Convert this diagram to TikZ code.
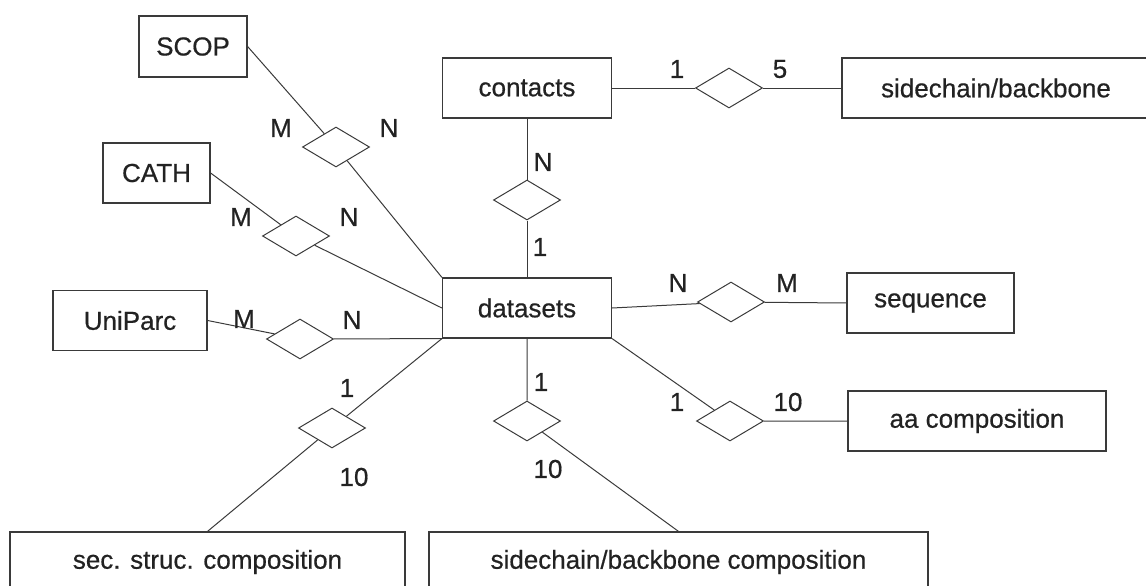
\documentclass[tikz,border=0pt]{standalone}
\usepackage{fontspec}
\setmainfont{Liberation Sans}[FakeBold=0.6]
\usetikzlibrary{shapes.geometric}
\definecolor{ink}{HTML}{222222}
\definecolor{edge}{HTML}{3A3A3A}
\begin{document}
\begin{tikzpicture}[x=1pt,y=-1pt,
  every node/.style={text=ink,font=\fontsize{26}{30}\selectfont},
  entity/.style={draw=edge,line width=1.2pt,rectangle,inner sep=0pt,minimum height=60pt},
  rel/.style={draw=edge,line width=1pt,diamond,inner sep=0pt,minimum width=67pt,minimum height=40pt},
  card/.style={inner sep=0pt},
  link/.style={draw=edge,line width=1pt}]
\useasboundingbox (0,0) rectangle (1146,586);

% entities
\node[entity,minimum width=169pt] (ds) at (527,308) {datasets};
\node[entity,minimum width=169pt] (contacts) at (527,88) {contacts};
\node[entity,minimum width=308pt] (sb) at (996,88) {sidechain/backbone};
\node[entity,minimum width=108pt,minimum height=61pt] (scop) at (193,46.5) {SCOP};
\node[entity,minimum width=107pt] (cath) at (156.5,173) {CATH};
\node[entity,minimum width=154pt] (uniparc) at (130,320.5) {UniParc};
\node[entity,minimum width=167pt] (seq) at (930.5,303) {sequence};
\node[entity,minimum width=258pt] (aa) at (977,421) {aa composition};
\node[entity,minimum width=395pt] (sec) at (207.5,562) {sec. struc. composition};
\node[entity,minimum width=499pt] (sbc) at (678.5,562) {sidechain/backbone composition};

% relationships
\node[rel] (rscop) at (336,147) {};
\node[rel] (rcath) at (296,236) {};
\node[rel] (runi) at (300,339) {};
\node[rel] (rsec) at (332,428) {};
\node[rel] (rsbc) at (527,421) {};
\node[rel] (raa) at (730,421) {};
\node[rel] (rseq) at (731,302) {};
\node[rel] (rcon) at (527,200) {};
\node[rel] (rsb) at (729,88) {};

% connectors
\path[link] (scop.east) -- (rscop) -- (ds.north west);
\path[link] (cath.east) -- (rcath) -- (ds.west);
\path[link] (uniparc.east) -- (runi) -- (ds.south west);
\path[link] (ds.south west) -- (rsec) -- (sec.north);
\path[link] (ds.south) -- (rsbc) -- (sbc.north);
\path[link] (ds.south east) -- (raa) -- (aa.west);
\path[link] (ds.east) -- (rseq) -- (seq.west);
\path[link] (contacts.south) -- (rcon) -- (ds.north);
\path[link] (contacts.east) -- (rsb) -- (sb.west);

% cardinalities
\node[card] (c1) at (281,128) {M};
\node[card] (c2) at (389,128) {N};
\node[card] (c3) at (241,217) {M};
\node[card] (c4) at (349,217) {N};
\node[card] (c5) at (244,319) {M};
\node[card] (c6) at (352,320) {N};
\node[card] (c7) at (347,388) {1};
\node[card] (c8) at (354,477) {10};
\node[card] (c9) at (541,382) {1};
\node[card] (c10) at (548,469) {10};
\node[card] (c11) at (677,402) {1};
\node[card] (c12) at (788,402) {10};
\node[card] (c13) at (678,283) {N};
\node[card] (c14) at (787,283) {M};
\node[card] (c15) at (543,162) {N};
\node[card] (c16) at (540,247) {1};
\node[card] (c17) at (677,69) {1};
\node[card] (c18) at (780,69) {5};
\end{tikzpicture}
\end{document}
